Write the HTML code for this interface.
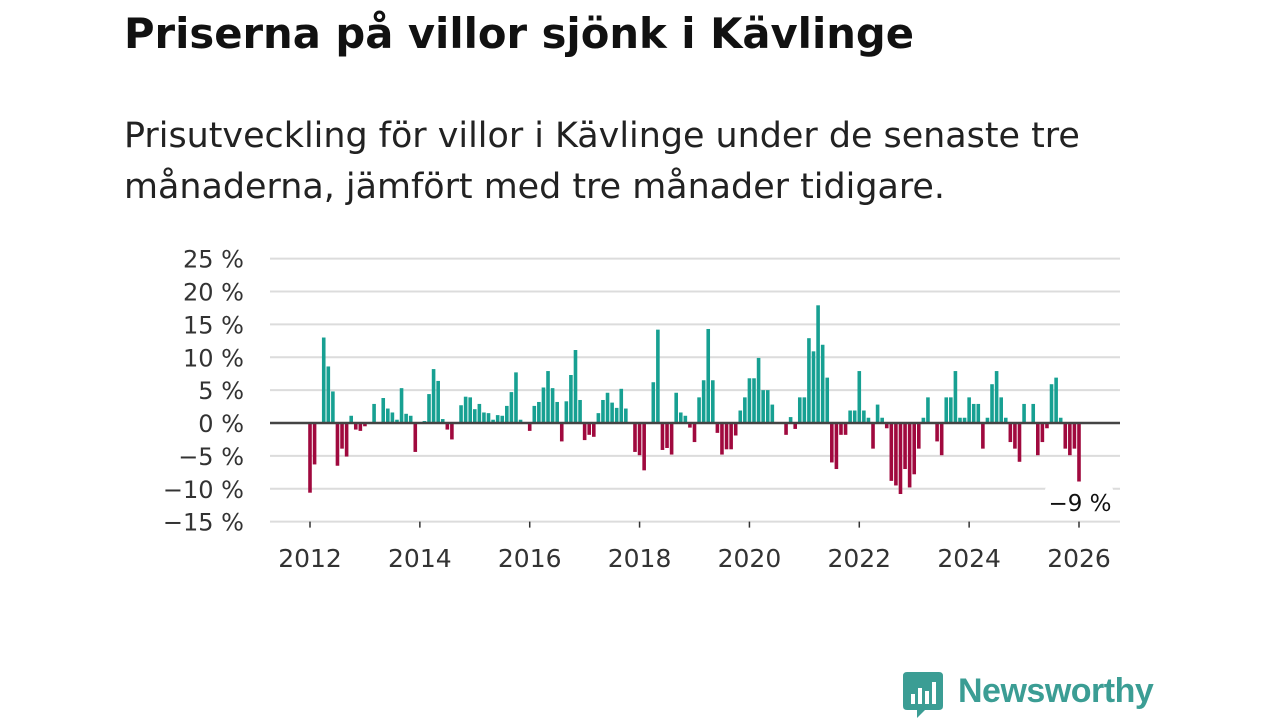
<!DOCTYPE html>
<html><head><meta charset="utf-8"><style>
body{margin:0;width:1280px;height:720px;background:#fff;font-family:"DejaVu Sans",sans-serif;overflow:hidden;position:relative}
h1{position:absolute;left:124px;top:9px;margin:0;font-size:41.7px;font-weight:bold;color:#111;white-space:nowrap}
p{position:absolute;left:124px;top:111px;margin:0;font-size:34.9px;line-height:51px;color:#222;white-space:nowrap}
</style></head><body>
<h1>Priserna på villor sjönk i Kävlinge</h1>
<p>Prisutveckling för villor i Kävlinge under de senaste tre<br>månaderna, jämfört med tre månader tidigare.</p>
<svg id="chart" width="1280" height="720" style="position:absolute;left:0;top:0"></svg>
<div style="position:absolute;left:903px;top:672px;height:46px">
<svg width="40" height="46" style="position:absolute;left:0;top:0"><path d="M0 4 Q0 0 4 0 H36 Q40 0 40 4 V34 Q40 38 36 38 H22 L14 46 L14 38 H4 Q0 38 0 34Z" fill="#3b9d94"/><rect x="8" y="22" width="4" height="10" fill="#fff"/><rect x="15" y="16" width="4" height="16" fill="#fff"/><rect x="22" y="19" width="4" height="13" fill="#fff"/><rect x="29" y="10" width="4" height="22" fill="#fff"/></svg>
<span style="position:absolute;left:55px;top:0;font-family:'Liberation Sans',sans-serif;font-size:34px;font-weight:bold;color:#3b9d94;letter-spacing:-0.5px">Newsworthy</span></div>
<script>
const yTicks=[25,20,15,10,5,0,-5,-10,-15];
const years=[2012,2014,2016,2018,2020,2022,2024,2026];
const startYear=2012;
const values=[-10.6,-6.3,0,13,8.6,4.8,-6.5,-3.9,-5.1,1.1,-1,-1.2,-0.5,0,2.9,0,3.8,2.2,1.6,0.5,5.3,1.4,1.1,-4.4,0,0.3,4.4,8.2,6.4,0.6,-1,-2.5,0,2.7,4,3.9,2.1,2.9,1.6,1.5,0.5,1.2,1.1,2.6,4.7,7.7,0.5,0,-1.2,2.6,3.2,5.4,7.9,5.3,3.2,-2.8,
3.3,7.3,11.1,3.5,-2.6,-1.8,-2.1,1.5,3.5,4.6,3.1,2.3,5.2,2.2,0,-4.4,-4.9,-7.2,0,6.2,14.2,-4.1,-3.8,-4.8,4.6,1.6,1.1,-0.7,-2.9,3.9,6.5,14.3,6.5,-1.5,-4.8,-4,-4,-1.9,1.9,3.9,6.8,6.8,9.9,5,5,2.8,0,0,-1.8,0.9,-0.9,3.9,3.9,12.9,10.9,17.9,11.9,6.9,
-6,-7,-1.8,-1.8,1.9,1.9,7.9,1.9,0.8,-3.9,2.8,0.8,-0.8,-8.8,-9.5,-10.8,-7,-9.8,-7.8,-3.9,0.8,3.9,0,-2.8,-4.9,3.9,3.9,7.9,0.8,0.8,3.9,2.9,2.9,-3.9,0.8,5.9,7.9,3.9,0.8,-2.9,-3.9,-5.9,2.9,0,2.9,-4.9,-2.9,-0.8,5.9,6.9,0.8,-3.9,-4.9,-3.9,-8.9];
const lastLabel="−9 %";
const svg=document.getElementById('chart');const NS='http://www.w3.org/2000/svg';
const y=v=>423-(v)*6.575;
const x=m=>310+m*(769/168);
function mk(t,a,p){const e=document.createElementNS(NS,t);for(const k in a)e.setAttribute(k,a[k]);(p||svg).appendChild(e);return e;}
yTicks.forEach(t=>{
 const l=mk('line',{x1:270,x2:1120,y1:y(t),y2:y(t),stroke:'#dcdcdc','stroke-width':2});
 
 
 const tx=mk('text',{x:244,y:y(t)+9,'text-anchor':'end','font-size':24,fill:'#333','font-family':'DejaVu Sans, sans-serif'});
 tx.textContent=(t<0?'−'+(-t):t)+' %';
 
 
});
years.forEach(yr=>{
 const px=x((yr-startYear)*12);
 const tk=mk('line',{x1:px,x2:px,y1:y(-15),y2:y(-15)+6,stroke:'#333','stroke-width':1.5});
 
 
 const tx=mk('text',{x:px,y:567,'text-anchor':'middle','font-size':25,fill:'#333','font-family':'DejaVu Sans, sans-serif'});
 tx.textContent=yr;
 
 
});
values.forEach((v,i)=>{
 if(v===0)return;
 const r=mk('rect',{x:x(i)-1.8,width:3.6,y:Math.min(y(v),y(0)),height:Math.abs(y(v)-y(0)),fill:v>0?'#17a092':'#a0093e'});
 
 
});
const z=mk('line',{x1:270,x2:1120,y1:y(0),y2:y(0),stroke:'#444','stroke-width':2.5});


const li=values.length-1;
const bg=mk('rect',{x:x(li)-34,y:486,width:68,height:32,fill:'#fff',rx:4});


const lab=mk('text',{x:x(li)+1,y:511,'text-anchor':'middle','font-size':23,fill:'#111','font-family':'DejaVu Sans, sans-serif'});
lab.textContent=lastLabel;


</script>
</body></html>
